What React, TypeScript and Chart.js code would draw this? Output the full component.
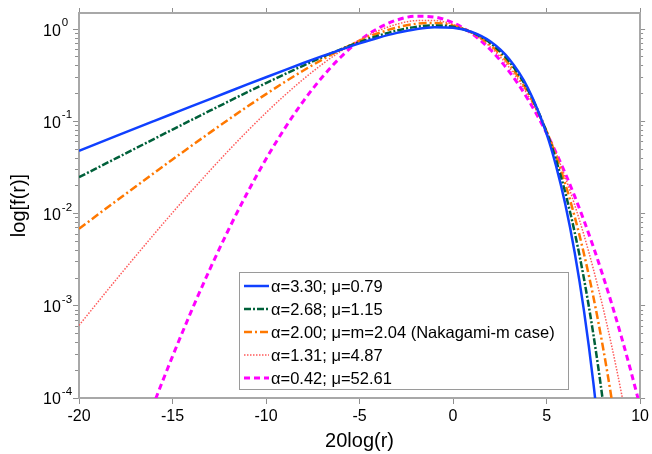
import React, { useEffect, useRef } from "react";
import { Chart, registerables } from "chart.js";

Chart.register(...registerables);

// x = 20log(r) sample positions
const xs = [-20, -18, -16, -15, -14, -13, -12, -11, -10, -9, -8, -7, -6, -5, -4, -3, -2, -1, 0, 1, 2, 3, 4, 5, 5.5, 6, 6.5, 7, 7.5, 8, 8.5, 9, 9.5, 10];

// f(r) values read for each curve (null = beyond the visible range)
const seriesA = [0.04809, 0.06961, 0.1007, 0.1211, 0.1456, 0.1749, 0.2100, 0.2519, 0.3017, 0.3607, 0.4299, 0.5101, 0.6014, 0.7024, 0.8091, 0.9136, 1.0015, 1.0518, 1.0377, 0.9337, 0.7344, 0.4746, 0.2302, 0.07337, 0.03336, 0.01262, 0.003818, 0.000882, 0.0001471, 0.00001653, null, null, null, null];
const seriesB = [0.02481, 0.03999, 0.06438, 0.0816, 0.1033, 0.1306, 0.1649, 0.2077, 0.2606, 0.3255, 0.4041, 0.4975, 0.6054, 0.7252, 0.8505, 0.9687, 1.0605, 1.1002, 1.0618, 0.9266, 0.7062, 0.4473, 0.2203, 0.07702, 0.03858, 0.01688, 0.006309, 0.001961, 0.0004918, 0.00009595, 0.00001398, null, null, null];
const seriesC = [0.006859, 0.01377, 0.02747, 0.03865, 0.05418, 0.07563, 0.1050, 0.1448, 0.1979, 0.2677, 0.3570, 0.4681, 0.6006, 0.7498, 0.9046, 1.0449, 1.1432, 1.1679, 1.0943, 0.9200, 0.6744, 0.4163, 0.2069, 0.07824, 0.04252, 0.02099, 0.009303, 0.003653, 0.001253, 0.0003690, 0.00009161, 0.00001878, null, null];
const seriesD = [0.0006134, 0.001938, 0.005936, 0.01024, 0.01743, 0.02927, 0.04836, 0.07839, 0.1243, 0.1919, 0.2877, 0.4165, 0.5789, 0.7675, 0.9632, 1.1340, 1.2397, 1.2431, 1.1268, 0.9093, 0.6406, 0.3855, 0.1931, 0.07809, 0.04538, 0.02466, 0.01247, 0.005836, 0.002512, 0.0009879, 0.0003525, 0.0001132, 0.00003248, 0.00000822];
const seriesE = [0.0000004339, 0.000006819, 0.00008657, 0.0002828, 0.0008685, 0.002500, 0.006724, 0.01684, 0.03914, 0.08409, 0.1664, 0.3018, 0.5001, 0.7533, 1.0266, 1.2596, 1.3843, 1.3552, 1.1750, 0.8970, 0.5989, 0.3476, 0.1742, 0.07474, 0.04610, 0.02727, 0.01546, 0.008394, 0.004357, 0.002160, 0.001022, 0.0004609, 0.0001979, 0.00008077];

const seriesLabels = [
  "α=3.30; μ=0.79",
  "α=2.68; μ=1.15",
  "α=2.00; μ=m=2.04 (Nakagami-m case)",
  "α=1.31; μ=4.87",
  "α=0.42; μ=52.61",
];

const xTicks = [-20, -15, -10, -5, 0, 5, 10];
const yTickExps = [0, -1, -2, -3, -4];
const yMin = 1e-4;
const yMax = 1.5;
const xMin = -20;
const xMax = 10;

const FONT = '"Liberation Sans", Arial, Helvetica, sans-serif';
const AXIS_GREY = "#a8a8a8";
const TICK_GREY = "#8f8f8f";

const majorY = () => yTickExps.map((e) => ({ value: Math.pow(10, e) }));
const minorY = () => {
  const out: { value: number }[] = [];
  for (let e = -4; e <= 0; e++) {
    for (let m = 2; m <= 9; m++) {
      const v = m * Math.pow(10, e);
      if (v >= yMin && v <= yMax) out.push({ value: v });
    }
  }
  return out;
};

const yLabelPlugin = {
  id: "yLabels",
  afterDraw(chart: any) {
    const ctx = chart.ctx;
    const ys = chart.scales.y;
    ctx.save();
    ctx.fillStyle = "#000";
    ctx.textAlign = "left";
    ctx.textBaseline = "alphabetic";
    yTickExps.forEach((e) => {
      const py = ys.getPixelForValue(Math.pow(10, e));
      ctx.font = `16px ${FONT}`;
      ctx.fillText("10", 43, py + 6.3);
      const w = ctx.measureText("10").width;
      ctx.font = `11.5px ${FONT}`;
      ctx.fillText(String(e), 43 + w + 1, py - 3);
    });
    ctx.restore();
  },
};

const legendPlugin = {
  id: "insetLegend",
  afterDatasetsDraw(chart: any) {
    const ctx = chart.ctx;
    const bx = 239.5, by = 272.5, bw = 329, bh = 117;
    ctx.save();
    ctx.fillStyle = "#fff";
    ctx.fillRect(bx, by, bw, bh);
    ctx.strokeStyle = "#9a9a9a";
    ctx.lineWidth = 1;
    ctx.strokeRect(bx, by, bw, bh);
    chart.data.datasets.forEach((ds: any, i: number) => {
      const y = 286 + i * 23;
      ctx.strokeStyle = ds.borderColor;
      ctx.lineWidth = ds.borderWidth;
      ctx.setLineDash(ds.borderDash || []);
      ctx.beginPath();
      ctx.moveTo(244, y);
      ctx.lineTo(269, y);
      ctx.stroke();
      ctx.setLineDash([]);
      ctx.fillStyle = "#000";
      ctx.font = `16.5px ${FONT}`;
      ctx.textBaseline = "middle";
      ctx.textAlign = "left";
      ctx.fillText(ds.label, 271, y + 1);
    });
    ctx.restore();
  },
};

export default function App() {
  const ref = useRef<HTMLCanvasElement | null>(null);

  useEffect(() => {
    if (!ref.current) return;
    const mk = (vals: (number | null)[]) => xs.map((x, i) => ({ x, y: vals[i] }));
    const styles = [
      { color: "#1040ff", width: 2.5, dash: [] as number[] },
      { color: "#00603a", width: 2.5, dash: [7, 2, 2, 2] },
      { color: "#ff7800", width: 2.5, dash: [8, 3, 2, 3] },
      { color: "#ff5a5a", width: 1.5, dash: [1.5, 1.5] },
      { color: "#ff00ff", width: 3, dash: [6, 4] },
    ];
    const all = [seriesA, seriesB, seriesC, seriesD, seriesE];
    const datasets = all.map((vals, i) => ({
      label: seriesLabels[i],
      data: mk(vals),
      borderColor: styles[i].color,
      backgroundColor: styles[i].color,
      borderWidth: styles[i].width,
      borderDash: styles[i].dash,
      pointRadius: 0,
      fill: false,
      cubicInterpolationMode: "monotone" as const,
      xAxisID: "x",
      yAxisID: "y",
    }));

    const logAxisBase = {
      type: "logarithmic" as const,
      min: yMin,
      max: yMax,
      ticks: { display: false },
    };

    const chart = new Chart(ref.current, {
      type: "line",
      data: { datasets },
      options: {
        responsive: false,
        animation: false,
        devicePixelRatio: 1,
        layout: { padding: 0 },
        plugins: { legend: { display: false }, tooltip: { enabled: false } },
        scales: {
          x: {
            type: "linear",
            position: "bottom",
            min: xMin,
            max: xMax,
            afterBuildTicks: (s: any) => {
              s.ticks = xTicks.map((v) => ({ value: v }));
            },
            afterFit: (s: any) => {
              s.height = 56;
            },
            ticks: {
              color: "#000",
              font: { family: FONT, size: 16 },
              padding: 3,
              maxRotation: 0,
              autoSkip: false,
              callback: (v: any) => String(v),
            },
            grid: { drawOnChartArea: false, drawTicks: true, tickLength: 6, color: TICK_GREY, lineWidth: 1 },
            border: { display: true, color: AXIS_GREY, width: 2 },
            title: {
              display: true,
              text: "20log(r)",
              color: "#000",
              font: { family: FONT, size: 20 },
              padding: { top: 0, bottom: 1 },
            },
          },
          xTop: {
            type: "linear",
            position: "top",
            min: xMin,
            max: xMax,
            afterBuildTicks: (s: any) => {
              s.ticks = xTicks.map((v) => ({ value: v }));
            },
            afterFit: (s: any) => {
              s.height = 13;
            },
            ticks: { display: false },
            grid: { drawOnChartArea: false, drawTicks: true, tickLength: 5, color: TICK_GREY, lineWidth: 1 },
            border: { display: true, color: AXIS_GREY, width: 2 },
          },
          y: {
            ...logAxisBase,
            position: "left",
            weight: 1,
            afterBuildTicks: (s: any) => {
              s.ticks = majorY();
            },
            afterFit: (s: any) => {
              s.width = 79;
            },
            grid: { drawOnChartArea: false, drawTicks: true, tickLength: 6, color: TICK_GREY, lineWidth: 1 },
            border: { display: true, color: AXIS_GREY, width: 2 },
            title: {
              display: true,
              text: "log[f(r)]",
              color: "#000",
              font: { family: FONT, size: 20 },
              padding: { top: 7, bottom: 0 },
            },
          },
          yMinL: {
            ...logAxisBase,
            position: "left",
            weight: 0,
            afterBuildTicks: (s: any) => {
              s.ticks = minorY();
            },
            afterFit: (s: any) => {
              s.width = 0;
            },
            grid: { drawOnChartArea: false, drawTicks: true, tickLength: 4, color: TICK_GREY, lineWidth: 1 },
            border: { display: false },
          },
          yR: {
            ...logAxisBase,
            position: "right",
            weight: 1,
            afterBuildTicks: (s: any) => {
              s.ticks = majorY();
            },
            afterFit: (s: any) => {
              s.width = 5;
            },
            grid: { drawOnChartArea: false, drawTicks: true, tickLength: 5, color: TICK_GREY, lineWidth: 1 },
            border: { display: true, color: AXIS_GREY, width: 2 },
          },
          yMinR: {
            ...logAxisBase,
            position: "right",
            weight: 0,
            afterBuildTicks: (s: any) => {
              s.ticks = minorY();
            },
            afterFit: (s: any) => {
              s.width = 0;
            },
            grid: { drawOnChartArea: false, drawTicks: true, tickLength: 3, color: TICK_GREY, lineWidth: 1 },
            border: { display: false },
          },
        },
      } as any,
      plugins: [legendPlugin, yLabelPlugin],
    });
    return () => chart.destroy();
  }, []);

  return (
    <div style={{ position: "fixed", left: 0, top: 0, width: 652, height: 454, background: "#fff" }}>
      <canvas ref={ref} width={652} height={454} style={{ display: "block", width: 652, height: 454 }} />
    </div>
  );
}
